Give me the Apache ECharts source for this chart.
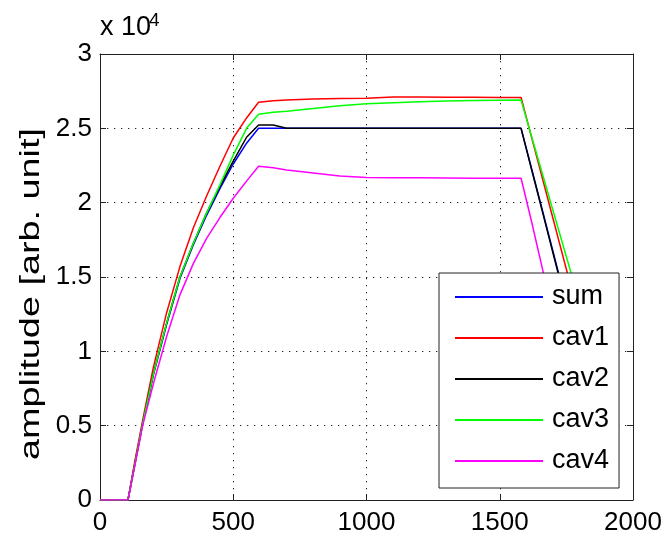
<!DOCTYPE html>
<html>
<head>
<meta charset="utf-8">
<script src="https://cdn.jsdelivr.net/npm/echarts@6/dist/echarts.min.js"></script>
<style>html,body{margin:0;padding:0;background:#fff}#c{width:665px;height:540px}</style>
</head>
<body>
<div id="c"></div>
<script>
const xs       = [0, 105, 130, 160, 200, 250, 300, 350, 400, 450, 500, 550, 595, 650, 700, 800, 900, 1000, 1100, 1200, 1300, 1400, 1500, 1580, 1620, 1660, 1700, 1750, 1800];
const sumVals  = [0, 0, 2350, 5100, 8400, 11800, 14900, 17150, 19150, 20950, 22600, 24000, 25000, 25000, 25000, 25000, 25000, 25000, 25000, 25000, 25000, 25000, 25000, 25000, 22250, 19500, 16700, 13200, 9700];
const cav1Vals = [0, 0, 2550, 5350, 8900, 12600, 15700, 18300, 20450, 22450, 24350, 25700, 26750, 26850, 26900, 26970, 27000, 27030, 27100, 27100, 27090, 27090, 27080, 27080, 24360, 21640, 18920, 15520, 12120];
const cav2Vals = [0, 0, 2350, 5150, 8450, 11900, 15000, 17250, 19300, 21100, 22800, 24400, 25220, 25220, 25000, 25000, 25000, 25000, 25000, 25000, 25000, 25000, 25000, 25000, 22200, 19400, 16600, 13100, 9600];
const cav3Vals = [0, 0, 2350, 5150, 8450, 11900, 15000, 17250, 19300, 21200, 23200, 25000, 25950, 26080, 26150, 26340, 26520, 26650, 26720, 26780, 26840, 26870, 26890, 26900, 24420, 21940, 19460, 16360, 13260];
const cav4Vals = [0, 0, 2250, 5000, 7800, 11000, 13800, 15900, 17600, 19000, 20300, 21450, 22450, 22350, 22200, 22000, 21800, 21700, 21680, 21670, 21660, 21650, 21640, 21640, 18680, 15560, 12440, 8540, 4640];
const seriesNames = ['sum', 'cav1', 'cav2', 'cav3', 'cav4'];
const seriesColors = ['#0000ff', '#ff0000', '#000000', '#00ff00', '#ff00ff'];
const xTicks = [0, 2000, 500];
const yTicks = [0, 30000, 5000];
const yLabel = 'amplitude [arb. unit]';

const allVals = [sumVals, cav1Vals, cav2Vals, cav3Vals, cav4Vals];
const FONT = 'Liberation Sans';

const chart = echarts.init(document.getElementById('c'));
const gridLine = { show: true, lineStyle: { color: '#222', width: 1, type: [1.3, 5.7] } };
chart.setOption({
  animation: false,
  backgroundColor: '#fff',
  grid: { left: 100, top: 54, right: 32, bottom: 40, show: false },
  xAxis: [
    { type: 'value', min: xTicks[0], max: xTicks[1], interval: xTicks[2],
      axisLine: { show: true, onZero: false, lineStyle: { color: '#222', width: 1 } },
      axisTick: { show: true, inside: true, length: 6, lineStyle: { color: '#222' } },
      axisLabel: { fontFamily: FONT, fontSize: 26, color: '#000', margin: 10,
                   formatter: v => String(v) },
      splitLine: gridLine },
    { type: 'value', position: 'top', min: xTicks[0], max: xTicks[1], interval: xTicks[2],
      axisLine: { show: true, onZero: false, lineStyle: { color: '#222', width: 1 } },
      axisTick: { show: true, inside: true, length: 6, lineStyle: { color: '#222' } },
      axisLabel: { show: false }, splitLine: { show: false } }
  ],
  yAxis: [
    { type: 'value', min: yTicks[0], max: yTicks[1], interval: yTicks[2],
      axisLine: { show: true, onZero: false, lineStyle: { color: '#222', width: 1 } },
      axisTick: { show: true, inside: true, length: 6, lineStyle: { color: '#222' } },
      axisLabel: { fontFamily: FONT, fontSize: 26, color: '#000', margin: 8,
                   formatter: v => String(v / 10000) },
      splitLine: gridLine },
    { type: 'value', position: 'right', min: yTicks[0], max: yTicks[1], interval: yTicks[2],
      axisLine: { show: true, onZero: false, lineStyle: { color: '#222', width: 1 } },
      axisTick: { show: true, inside: true, length: 6, lineStyle: { color: '#222' } },
      axisLabel: { show: false }, splitLine: { show: false } }
  ],
  legend: {
    orient: 'vertical', left: 439, top: 273, z: 20,
    data: seriesNames,
    icon: 'rect', itemWidth: 88, itemHeight: 2, itemGap: 11,
    padding: [9, 10, 12, 16],
    backgroundColor: '#fff', borderColor: '#222', borderWidth: 1,
    textStyle: { fontFamily: FONT, fontSize: 27, color: '#000', lineHeight: 30, padding: [0, 0, 0, 4] }
  },
  graphic: [
    { type: 'text', x: 100, y: 41, style: { text: 'x 10', fontFamily: FONT, fontSize: 27, fill: '#000', textVerticalAlign: 'bottom', textAlign: 'left' } },
    { type: 'text', x: 149, y: 30, style: { text: '4', fontFamily: FONT, fontSize: 19, fill: '#000', textVerticalAlign: 'bottom', textAlign: 'left' } },
    { type: 'text', x: 32, y: 294, rotation: Math.PI / 2, scaleX: 1.4, scaleY: 1,
      style: { text: yLabel, fontFamily: FONT, fontSize: 27, fill: '#000', textAlign: 'center', textVerticalAlign: 'middle' } }
  ],
  series: seriesNames.map((n, i) => ({
    name: n, type: 'line', xAxisIndex: 0, yAxisIndex: 0,
    data: xs.map((x, k) => [x, allVals[i][k]]),
    showSymbol: false, symbol: 'none',
    lineStyle: { color: seriesColors[i], width: 1.5 },
    itemStyle: { color: seriesColors[i] }
  }))
});
</script>
</body>
</html>
